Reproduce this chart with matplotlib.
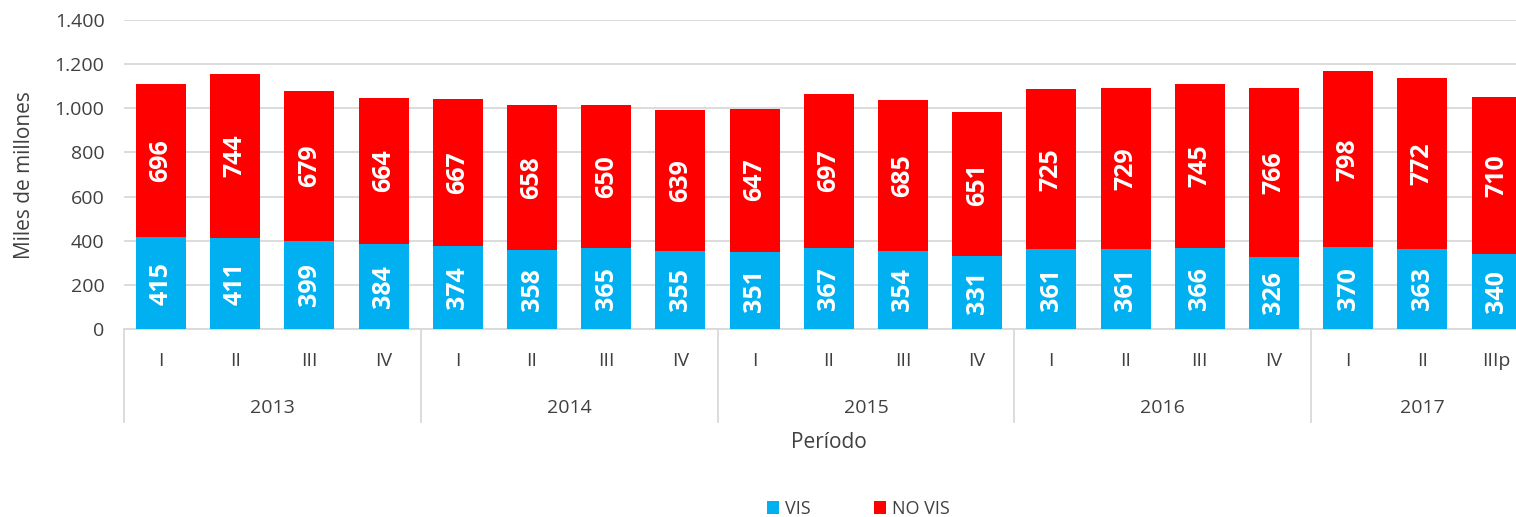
import matplotlib
matplotlib.use('Agg')  # no display
import matplotlib.pyplot as plt
from matplotlib.ticker import FuncFormatter, MultipleLocator
import numpy as np

# data
years = ["2013", "2014", "2015", "2016", "2017"]
quarters = ["I", "II", "III", "IV",
            "I", "II", "III", "IV",
            "I", "II", "III", "IV",
            "I", "II", "III", "IV",
            "I", "II", "IIIp"]
vis = [415, 411, 399, 384, 374, 358, 365, 355, 351, 367, 354, 331,
       361, 361, 366, 326, 370, 363, 340]
no_vis = [696, 744, 679, 664, 667, 658, 650, 639, 647, 697, 685, 651,
          725, 729, 745, 766, 798, 772, 710]
year_sizes = [4, 4, 4, 4, 3]

BLUE = "#00B0F0"
RED = "#FF0000"
GRID = "#D9D9D9"
TXT = "#404040"

plt.rcParams['font.family'] = ['Open Sans', 'DejaVu Sans']

W, H = 1516, 517
fig = plt.figure(figsize=(W / 100, H / 100), dpi=100)
# plot area runs past the right edge, as in the reference
left, right, top, bottom = 124, 1533.6, 20, 329
ax = fig.add_axes([left / W, 1 - bottom / H, (right - left) / W, (bottom - top) / H])

x = np.arange(len(vis))
bw = 0.674
ax.bar(x, vis, bw, color=BLUE, label="VIS", zorder=3)
ax.bar(x, no_vis, bw, bottom=vis, color=RED, label="NO VIS", zorder=3)

for i in range(len(x)):
    ax.text(x[i], vis[i] / 2, str(vis[i]), rotation=90, ha='center', va='center',
            color='white', fontsize=18, fontweight='bold', zorder=4)
    ax.text(x[i], vis[i] + no_vis[i] / 2, str(no_vis[i]), rotation=90, ha='center',
            va='center', color='white', fontsize=18, fontweight='bold', zorder=4)

ax.set_xlim(-0.5, len(x) - 0.5)
ax.set_ylim(0, 1400)
ax.yaxis.set_major_locator(MultipleLocator(200))
ax.yaxis.set_major_formatter(FuncFormatter(lambda v, p: f"{int(v):,}".replace(",", ".")))
ax.tick_params(axis='y', length=0, labelsize=14, labelcolor=TXT, pad=14)
ax.set_xticks([])
ax.grid(axis='y', color=GRID, linewidth=1.3, zorder=0)
for s in ['left', 'right', 'top']:
    ax.spines[s].set_visible(False)
ax.spines['bottom'].set_color(GRID)
ax.spines['bottom'].set_linewidth(1.3)

# two-level category axis
trans = ax.get_xaxis_transform()
axh = bottom - top
for i, q in enumerate(quarters):
    ax.text(i, -(361 - bottom) / axh, q, transform=trans, ha='center', va='center',
            fontsize=14, color=TXT)
start = 0
for yr, n in zip(years, year_sizes):
    ax.text(start + (n - 1) / 2, -(408 - bottom) / axh, yr, transform=trans,
            ha='center', va='center', fontsize=14, color=TXT)
    ax.plot([start - 0.5, start - 0.5], [0, -(422 - bottom) / axh], transform=trans,
            color=GRID, linewidth=1.3, clip_on=False)
    start += n
ax.plot([start - 0.5, start - 0.5], [0, -(422 - bottom) / axh], transform=trans,
        color=GRID, linewidth=1.3, clip_on=False)

ax.text(0.5, -(443 - bottom) / axh, "Período", transform=ax.transAxes, ha='center',
        va='center', fontsize=15, color=TXT)
fig.text(25 / W, 1 - 175 / H, "Miles de millones", rotation=90, ha='center',
         va='center', fontsize=15, color=TXT)

fig.legend(loc='center', bbox_to_anchor=(858 / W, 1 - 509 / H), ncol=2, frameon=False,
           fontsize=13, handlelength=0.7, handleheight=0.7, handletextpad=0.3,
           columnspacing=3.5, labelcolor=TXT)

plt.savefig("out.png", dpi=100)
